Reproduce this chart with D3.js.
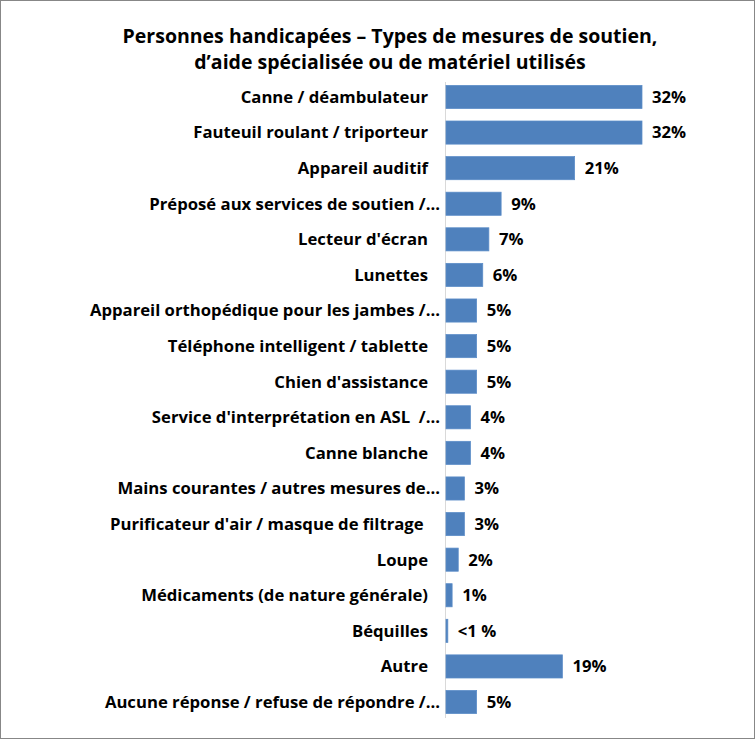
<!DOCTYPE html>
<html><head><meta charset="utf-8">
<script src="https://cdn.jsdelivr.net/npm/d3@7"></script>
<style>body{margin:0;background:#fff}svg{display:block}text{white-space:pre}</style>
</head><body>
<svg id="c" width="755" height="739"></svg>
<script>
const categories = ["Canne / déambulateur","Fauteuil roulant / triporteur","Appareil auditif","Préposé aux services de soutien /…","Lecteur d'écran","Lunettes","Appareil orthopédique pour les jambes /…","Téléphone intelligent / tablette","Chien d'assistance","Service d'interprétation en ASL  /…","Canne blanche","Mains courantes / autres mesures de…","Purificateur d'air / masque de filtrage ","Loupe","Médicaments (de nature générale)","Béquilles","Autre","Aucune réponse / refuse de répondre /…"];
const values = [32,32,21,9,7,6,5,5,5,4,4,3,3,2,1,0.3,19,5];
const valueLabels = ["32%","32%","21%","9%","7%","6%","5%","5%","5%","4%","4%","3%","3%","2%","1%","<1 %","19%","5%"];
const titleLines = ["Personnes handicapées – Types de mesures de soutien,","d’aide spécialisée ou de matériel utilisés"];

const svg = d3.select("#c");
const font = "'Open Sans', sans-serif";
svg.append("rect").attr("x",0.5).attr("y",0.5).attr("width",754).attr("height",738).attr("fill","#fff").attr("stroke","#878787");

svg.selectAll("text.title").data(titleLines).join("text").attr("class","title")
  .attr("x",390).attr("y",(d,i)=>43+i*26).attr("text-anchor","middle")
  .attr("font-family",font).attr("font-weight","bold").attr("font-size",19.5).attr("fill","#000").text(d=>d);

const x = d3.scaleLinear().domain([0,32]).range([446,642]);
const y = d3.scaleBand().domain(categories).range([79,720]).paddingInner(0.35).paddingOuter(0.18);

svg.append("line").attr("x1",445.5).attr("x2",445.5).attr("y1",82).attr("y2",718).attr("stroke","#d9d9d9").attr("stroke-width",1);

svg.selectAll("rect.bar").data(values).join("rect").attr("class","bar")
  .attr("x",x(0)).attr("y",(d,i)=>y(categories[i]))
  .attr("width",d=>x(d)-x(0)).attr("height",y.bandwidth())
  .attr("fill","#4f81bd").attr("stroke","#5b8cc8").attr("stroke-width",0.75);

svg.selectAll("text.cat").data(categories).join("text").attr("class","cat")
  .attr("x",d=>d.endsWith("…") ? 440 : 428).attr("y",d=>y(d)+y.bandwidth()/2).attr("dy","0.35em").attr("text-anchor","end")
  .attr("font-family",font).attr("font-weight","bold").attr("font-size",16.7).attr("fill","#000").text(d=>d);

svg.selectAll("text.val").data(values).join("text").attr("class","val")
  .attr("x",d=>x(d)+10).attr("y",(d,i)=>y(categories[i])+y.bandwidth()/2).attr("dy","0.35em")
  .attr("font-family",font).attr("font-weight","bold").attr("font-size",16.7).attr("fill","#000").text((d,i)=>valueLabels[i]);
</script>
</body></html>
